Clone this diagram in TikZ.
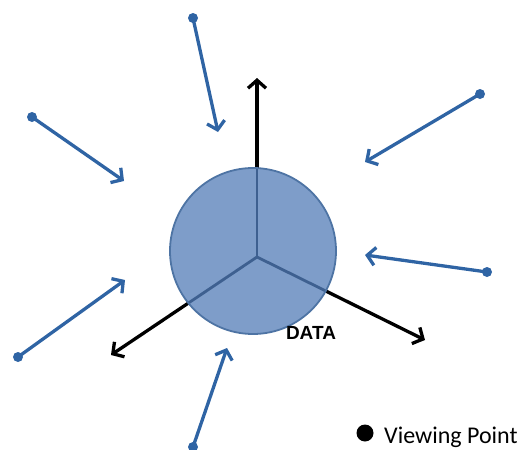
\documentclass[tikz,border=0pt]{standalone}
\usepackage{fontspec}
\setmainfont{Liberation Sans}
\newfontfamily\calibrifont{Carlito}
\usetikzlibrary{arrows.meta}
\definecolor{vblue}{HTML}{2F64A4}
\definecolor{discfill}{HTML}{7E9DC9}
\definecolor{discline}{HTML}{4E74A4}
\definecolor{spoke}{HTML}{3E6090}
\begin{document}
\begin{tikzpicture}[x=1pt,y=-1pt,
  vdot/.style={circle,fill=vblue,inner sep=0pt,minimum size=10pt},
  view/.style={vblue,line width=3.3pt,-{Straight Barb[length=8pt,width=18pt]}},
  axis/.style={black,line width=3.3pt,-{Straight Barb[length=8pt,width=18pt]}}]
\useasboundingbox (0,0) rectangle (523,450);
% axes
\coordinate (o) at (257,257);
\coordinate (ax1) at (257,78);
\coordinate (ax2) at (111,355);
\coordinate (ax3) at (425,340);
\draw[axis] (o) -- (ax1);
\draw[axis] (o) -- (ax2);
\draw[axis] (o) -- (ax3);
% disc
\coordinate (c) at (253,251);
\fill[discfill] (c) circle[radius=83];
\begin{scope}
  \clip (c) circle[radius=83];
  \draw[spoke,line width=2.8pt] (o) -- (ax1);
  \draw[spoke,line width=2.8pt] (o) -- (ax2);
  \draw[spoke,line width=2.8pt] (o) -- (ax3);
\end{scope}
\draw[discline,line width=1.8pt] (c) circle[radius=83];
\node[font=\bfseries\fontsize{19}{19}\selectfont,anchor=base] (data) at (311,339) {DATA};
% viewing points
\node[vdot] (p1) at (193,18) {};
\coordinate (t1) at (218,132);
\node[vdot] (p2) at (32,117) {};
\coordinate (t2) at (124,181);
\node[vdot] (p3) at (480,94) {};
\coordinate (t3) at (365,162);
\node[vdot] (p4) at (487,272) {};
\coordinate (t4) at (365,255);
\node[vdot] (p5) at (18,357) {};
\coordinate (t5) at (125,280);
\node[vdot] (p6) at (193,447) {};
\coordinate (t6) at (227,348);
\foreach \i in {1,...,6} \draw[view] (p\i.center) -- (t\i);
% legend
\node[circle,fill=black,inner sep=0pt,minimum size=17pt] (ld) at (365,433) {};
\node[anchor=base west,font=\calibrifont\fontsize{24}{24}\selectfont,inner sep=0pt] (lt) at (384,443) {Viewing Point};
\end{tikzpicture}
\end{document}
